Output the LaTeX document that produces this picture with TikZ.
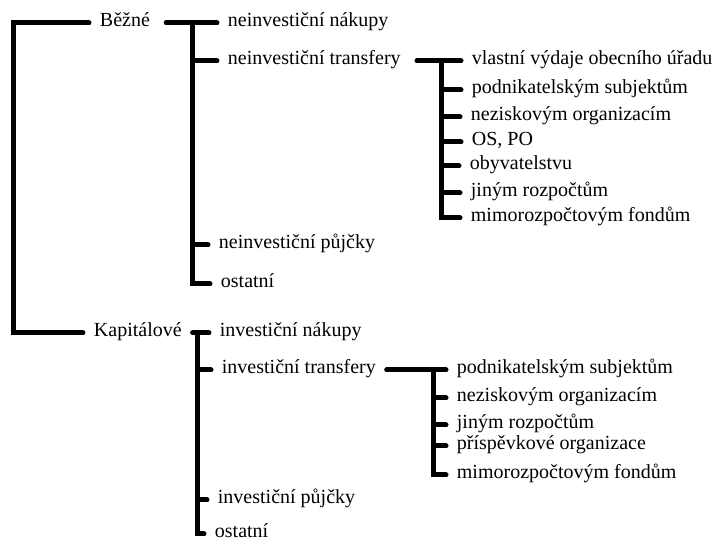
\documentclass[tikz,border=0pt]{standalone}
\usepackage{fontspec}
\setmainfont{Liberation Serif}
\usetikzlibrary{positioning, calc}
\tikzstyle{Bar} = [
%Thick tree connector:
line width = 3.75pt,
line cap = round,
line join = miter
]

\begin{document}
\begin{tikzpicture}[
				x = 0.75pt, y = -0.75pt,
				item/.style = {anchor = west, inner xsep = 8pt, inner ysep = 0pt, text height = 0.7em, text depth = 0.2em, font = \fontsize{15}{18}\selectfont},
			]
			\useasboundingbox (0,0) rectangle (726,541);

			\node[item](BE) at (89,23){Běžné};
			\node[item](KA) at (83,333){Kapitálové};

			\node[item](NN) at (217,23){neinvestiční nákupy};
			\node[item](NT) at (217,61){neinvestiční transfery};
			\node[item](NP) at (208,245){neinvestiční půjčky};
			\node[item](NO) at (210,284){ostatní};

			\node[item](IN) at (209,333){investiční nákupy};
			\node[item](IT) at (211,370){investiční transfery};
			\node[item](IP) at (207,500){investiční půjčky};
			\node[item](IO) at (204,534){ostatní};

			\node[item](V1) at (461,61){vlastní výdaje obecního úřadu};
			\node[item](V2) at (461,90){podnikatelským subjektům};
			\node[item](V3) at (460,117){neziskovým organizacím};
			\node[item](V4) at (461,142){OS, PO};
			\node[item](V5) at (459,166){obyvatelstvu};
			\node[item](V6) at (460,193){jiným rozpočtům};
			\node[item](V7) at (460,218){mimorozpočtovým fondům};

			\node[item](K1) at (446,370){podnikatelským subjektům};
			\node[item](K2) at (446,398){neziskovým organizacím};
			\node[item](K3) at (446,425){jiným rozpočtům};
			\node[item](K4) at (446,446){příspěvkové organizace};
			\node[item](K5) at (446,475){mimorozpočtovým fondům};

			\coordinate(R) at (13,178);
			\coordinate(B1) at (192,23);
			\coordinate(B2) at (197,333);
			\coordinate(T1) at (441,61);
			\coordinate(T2) at (433,370);

			\draw[Bar](BE.west) -| (R) |- (KA.west);
			\draw[Bar, shorten <= 4pt](BE.east) -- (NN.west);
			\foreach \n in {NT, NP, NO} \draw[Bar](B1) |- (\n.west);
			\draw[Bar](KA.east) -- (IN.west);
			\foreach \n in {IT, IP, IO} \draw[Bar](B2) |- (\n.west);
			\draw[Bar, shorten <= 4pt](NT.east) -- (V1.west);
			\foreach \i in {2,...,7} \draw[Bar](T1) |- (V\i.west);
			\draw[Bar](IT.east) -- (K1.west);
			\foreach \i in {2,...,5} \draw[Bar](T2) |- (K\i.west);

		\end{tikzpicture}
\end{document}
